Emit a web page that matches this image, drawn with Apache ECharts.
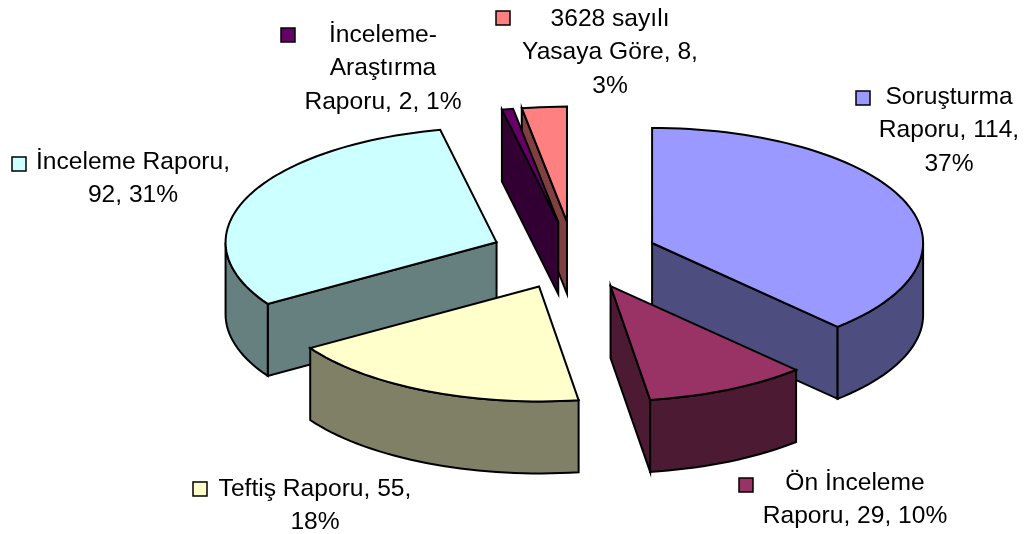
<!DOCTYPE html>
<html>
<head>
<meta charset="utf-8">
<title>Rapor türleri</title>
<style>
html,body{margin:0;padding:0;background:#fff;}
#chart{width:1024px;height:534px;}
</style>
<script src="https://cdn.jsdelivr.net/npm/echarts@6/dist/echarts.min.js"></script>
</head>
<body>
<div id="chart"></div>
<script>
// values, in pie order (clockwise from 12 o'clock)
var categories=['Soruşturma Raporu','Ön İnceleme Raporu','Teftiş Raporu','İnceleme Raporu','İnceleme-Araştırma Raporu','3628 sayılı Yasaya Göre'];
var values=[114,29,55,92,2,8];
var percents=[37,10,18,31,1,3];
// how each label wraps
var labelLines=[
	['Soruşturma','Raporu, 114,','37%'],
	['Ön İnceleme','Raporu, 29, 10%'],
	['Teftiş Raporu, 55,','18%'],
	['İnceleme Raporu,','92, 31%'],
	['İnceleme-','Araştırma','Raporu, 2, 1%'],
	['3628 sayılı','Yasaya Göre, 8,','3%']
];

var topColors=['#9999FF','#993366','#FFFFCC','#CCFFFF','#660066','#FF8080'];
var sideColors=['#4D4D80','#4D1A33','#808066','#668080','#330033','#804040'];
var drawOrder=[0,5,4,3,1,2];//back to front

// fake 3d pie geometry
var pie={cx:574,cy:255.5,rx:271,ry:115,depth:72,explodeX:84,explodeY:34};
// label centre x, middle y of the first line, legend key x,y
var labelPos=[
	{x:949,y:97,kx:856,ky:91},
	{x:855,y:483,kx:739,ky:478},
	{x:315,y:489,kx:193,ky:482},
	{x:133,y:162,kx:12,ky:157},
	{x:383,y:35,kx:281,ky:28},
	{x:610,y:19,kx:496,ky:11}
];
var lineGap=33.5;
var total=values.reduce(function(a,b){return a+b;},0);

function rad(deg){
	return deg*Math.PI/180;
}
function rimPoint(c,deg,drop){
	return [c.x+pie.rx*Math.sin(rad(deg)),c.y-pie.ry*Math.cos(rad(deg))+(drop||0)];
}
function arcPoints(c,from,to,drop){
	var pts=[],n=Math.max(2,Math.ceil((to-from)/2));
	for(var i=0;i<=n;i++){
		pts.push(rimPoint(c,from+(to-from)*i/n,drop));
	}
	return pts;
}
function face(points,fill,z){
	return {
		type:'polygon',
		z2:z,
		shape:{points:points},
		style:{fill:fill,stroke:'#000',lineWidth:2,lineJoin:'miter'}
	};
}
function wall(c,deg,fill,z){
	var rim=rimPoint(c,deg);
	return face([[c.x,c.y],rim,[rim[0],rim[1]+pie.depth],[c.x,c.y+pie.depth]],fill,z);
}

function renderSlice(params,api){
	var i=params.dataIndex;
	var before=0;
	for(var k=0;k<i;k++){
		before+=values[k];
	}
	var a0=before/total*360;
	var a1=(before+api.value(0))/total*360;
	var mid=(a0+a1)/2;
	var c={x:pie.cx+pie.explodeX*Math.sin(rad(mid)),y:pie.cy-pie.explodeY*Math.cos(rad(mid))};
	var z=drawOrder.indexOf(i)*10;
	var kids=[];
	// radial walls, only those facing the viewer
	if(a0>180){
		kids.push(wall(c,a0,sideColors[i],z));
	}
	if(a1<180){
		kids.push(wall(c,a1,sideColors[i],z));
	}
	// outer wall, front half of the rim only
	var from=Math.max(a0,90),to=Math.min(a1,270);
	if(to>from){
		var upper=arcPoints(c,from,to,0);
		var lower=arcPoints(c,from,to,pie.depth).reverse();
		kids.push(face(upper.concat(lower),sideColors[i],z+1));
	}
	kids.push(face([[c.x,c.y]].concat(arcPoints(c,a0,a1,0)),topColors[i],z+2));
	// data label with its legend key
	var p=labelPos[i];
	kids.push({
		type:'rect',
		z2:100,
		shape:{x:p.kx,y:p.ky,width:14,height:14},
		style:{fill:topColors[i],stroke:'#000',lineWidth:1.5}
	});
	labelLines[i].forEach(function(line,n){
		kids.push({
			type:'text',
			z2:100,
			style:{
				text:line,
				x:p.x,
				y:p.y+n*lineGap,
				fill:'#000',
				font:'24.6px "Liberation Sans", Arial, sans-serif',
				align:'center',
				verticalAlign:'middle'
			}
		});
	});
	return {type:'group',children:kids};
}

var chart=echarts.init(document.getElementById('chart'));
chart.setOption({
	animation:false,
	backgroundColor:'#fff',
	series:[{
		type:'custom',
		coordinateSystem:'none',
		renderItem:renderSlice,
		data:values.map(function(v,i){
			return {name:categories[i],value:[v,percents[i]]};
		})
	}]
});
</script>
</body>
</html>
